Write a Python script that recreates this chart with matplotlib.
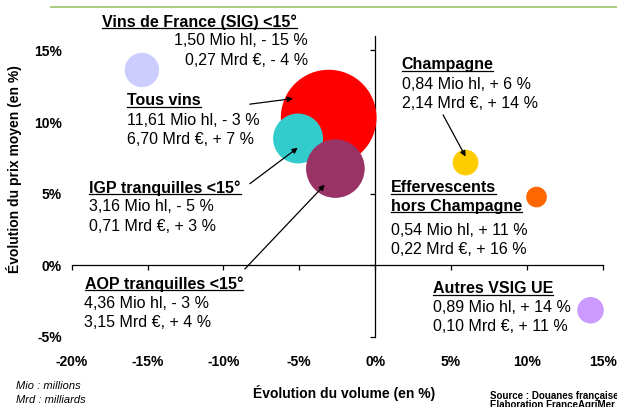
import matplotlib
matplotlib.use("Agg")
import matplotlib.pyplot as plt
from matplotlib.lines import Line2D

plt.rcParams.update({
    "font.family": ["Liberation Sans", "DejaVu Sans"],
    "font.size": 11.5,
})

# ---- data ----
NAMES = ["Tous vins", "IGP tranquilles", "AOP tranquilles", "Vins de France (SIG)",
         "Champagne", "Effervescents hors Champagne", "Autres VSIG UE"]
VOL_CHG = [-3.06, -5.08, -2.62, -15.37, 5.96, 10.64, 14.2]      # x : evolution du volume (%)
PRICE_CHG = [10.31, 8.85, 6.75, 13.64, 7.17, 4.76, -3.15]       # y : evolution du prix moyen (%)
VOLUME = [11.61, 3.16, 4.36, 1.50, 0.84, 0.54, 0.89]           # bubble size : Mio hl
COLORS = ["#ff0000", "#33cccc", "#993366", "#ccccff", "#ffcc00", "#ff6600", "#cc99ff"]

TITLES = [["Tous vins"], ["IGP tranquilles <15°"], ["AOP tranquilles <15°"],
          ["Vins de France (SIG) <15°"], ["Champagne"],
          ["Effervescents", "hors Champagne"], ["Autres VSIG UE"]]
LINE_VOL = ["11,61 Mio hl, - 3 %", "3,16 Mio hl, - 5 %", "4,36 Mio hl, - 3 %",
            "1,50 Mio hl, - 15 %", "0,84 Mio hl, + 6 %", "0,54 Mio hl, + 11 %",
            "0,89 Mio hl, + 14 %"]
LINE_VAL = ["6,70 Mrd €, + 7 %", "0,71 Mrd €, + 3 %", "3,15 Mrd €, + 4 %",
            "0,27 Mrd €, - 4 %", "2,14 Mrd €, + 14 %", "0,22 Mrd €, + 16 %",
            "0,10 Mrd €, + 11 %"]

XTICKS = [-20, -15, -10, -5, 0, 5, 10, 15]
YTICKS = [-5, 0, 5, 10, 15]

# ---- label layout (data coords): title x, title ys, value-line x, value ys, value alignment ----
LAB_POS = [
    (-16.35, [11.48], -16.35, [10.10, 8.76], "left"),
    (-18.84, [5.39], -18.84, [4.10, 2.71], "left"),
    (-19.14, [-1.31], -19.20, [-2.69, -3.99], "left"),
    (-18.02, [17.01], -4.44, [15.67, 14.27], "right"),
    (1.74, [13.99], 1.74, [12.60, 11.32], "left"),
    (1.03, [5.41, 4.10], 1.03, [2.43, 1.08], "left"),
    (3.82, [-1.66], 3.82, [-2.99, -4.27], "left"),
]
ARROWS = [((-8.26, 11.25), (-5.41, 11.64)),
          ((-8.26, 5.69), (-5.10, 8.20)),
          ((-8.59, -0.27), (-3.32, 5.62)),
          ((4.48, 10.50), (5.96, 7.59))]

fig = plt.figure(figsize=(6.17, 4.07), dpi=100)
rect = [0.1162, 0.1727, 0.8606, 0.7384]
ax = fig.add_axes(rect)
ax.set_xlim(-20, 15); ax.set_ylim(-5, 16)
for s in ("top", "right"):
    ax.spines[s].set_visible(False)
ax.spines["left"].set_position(("data", 0))
ax.spines["bottom"].set_position(("data", 0))
for s in ("left", "bottom"):
    ax.spines[s].set_linewidth(0.9)
ax.set_xticks(XTICKS); ax.set_yticks(YTICKS)
ax.tick_params(direction="out", length=3.5, width=0.9, labelbottom=False, labelleft=False)
ax.patch.set_alpha(0)

# tick labels live on an invisible twin so they stay at the plot edges
lab = fig.add_axes(rect, frameon=False, zorder=-1)
lab.set_xlim(-20, 15); lab.set_ylim(-5, 16)
lab.set_xticks(XTICKS, [f"{v}%" for v in XTICKS])
lab.set_yticks(YTICKS, [f"{v}%" for v in YTICKS])
lab.tick_params(length=0, labelsize=10)
lab.tick_params(axis="x", pad=13)
lab.tick_params(axis="y", pad=7)
for t in lab.get_xticklabels() + lab.get_yticklabels():
    t.set_fontweight("bold")

# bubbles: area ~ volume
ax.scatter(VOL_CHG, PRICE_CHG, s=[409 * v for v in VOLUME], c=COLORS,
           linewidths=0, zorder=3, clip_on=False)

titles = []
for i, (tx, tys, vx, vys, ha) in enumerate(LAB_POS):
    for line, ty in zip(TITLES[i], tys):
        titles.append(ax.text(tx, ty, line, ha="left", va="center",
                              fontweight="bold", zorder=5))
    ax.text(vx, vys[0], LINE_VOL[i], ha=ha, va="center", zorder=5)
    ax.text(vx, vys[1], LINE_VAL[i], ha=ha, va="center", zorder=5)

for tail, head in ARROWS:
    ax.annotate("", xy=head, xytext=tail,
                arrowprops=dict(arrowstyle="-|>", color="black", lw=0.9,
                                mutation_scale=8, shrinkA=0, shrinkB=0), zorder=6)

fig.text(0.022, 0.585, "Évolution du prix moyen (en %)", rotation=90, ha="center",
         va="center", fontsize=10, fontweight="bold")
fig.text(0.5575, 0.034, "Évolution du volume (en %)", ha="center", va="center",
         fontsize=10, fontweight="bold")
fig.text(0.026, 0.0516, "Mio : millions", fontsize=8, style="italic", va="center")
fig.text(0.026, 0.0172, "Mrd : milliards", fontsize=8, style="italic", va="center")
fig.text(0.794, 0.027, "Source : Douanes françaises", fontsize=7, fontweight="bold", va="center")
fig.text(0.794, 0.004, "Elaboration FranceAgriMer", fontsize=7, fontweight="bold", va="center")

# green rule at the top
fig.add_artist(Line2D([0.082, 1.0], [0.983, 0.983], color="#9bc36b", lw=1.2))

# underline the bold titles
fig.canvas.draw()
r = fig.canvas.get_renderer()
inv = fig.transFigure.inverted()
for t in titles:
    bb = t.get_window_extent(r)
    (x0, y0), (x1, _) = inv.transform([(bb.x0, bb.y0 + 1.5), (bb.x1, bb.y0)])
    fig.add_artist(Line2D([x0, x1], [y0, y0], color="black", lw=0.9))

fig.savefig("out.png", dpi=100)
